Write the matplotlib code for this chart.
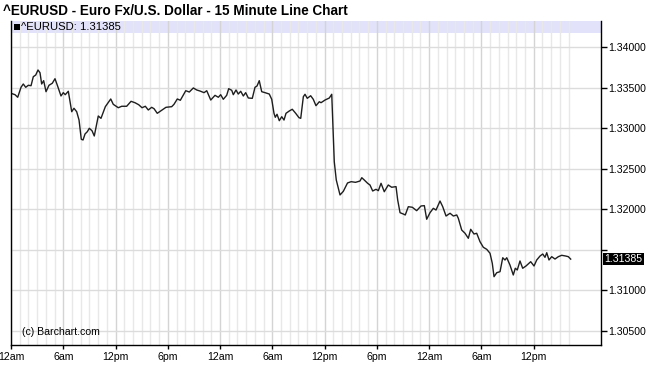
import numpy as np
import matplotlib
matplotlib.use('Agg')
import matplotlib.pyplot as plt
from matplotlib.patches import Rectangle

plt.rcParams['font.family'] = ['Liberation Sans', 'DejaVu Sans']

# hours since the first 12am, and EUR/USD price
hours = [0.00, 0.46, 0.77, 1.15, 1.41, 1.69, 1.99, 2.30, 2.56, 2.84, 3.10, 3.33, 3.52, 3.75,
         4.02, 4.36, 4.74, 5.05, 5.32, 5.74, 6.00, 6.23, 6.58, 6.97, 7.23, 7.54, 7.81, 8.07,
         8.27, 8.50, 8.76, 8.99, 9.30, 9.56, 10.02, 10.33, 10.83, 11.45, 11.74, 12.32, 12.71,
         13.28, 13.78, 14.23, 14.66, 15.04, 15.42, 15.76, 16.15, 16.42, 16.79, 17.22, 17.79,
         18.45, 18.71, 19.09, 19.44, 20.06, 20.47, 20.93, 21.32, 21.70, 22.16, 22.47, 22.93,
         23.42, 23.80, 24.07, 24.37, 24.76, 24.99, 25.34, 25.52, 25.83, 26.09, 26.37, 26.67,
         26.94, 27.24, 27.70, 28.01, 28.24, 28.50, 28.78, 29.16, 29.65, 29.93, 30.19, 30.34,
         30.54, 30.80, 31.08, 31.34, 31.57, 31.95, 32.29, 32.68, 33.06, 33.26, 33.56, 33.75,
         34.01, 34.40, 34.70, 35.01, 35.39, 35.59, 36.05, 36.54, 36.82, 37.11, 37.34, 37.77,
         38.15, 38.63, 39.05, 39.55, 40.06, 40.27, 40.55, 40.94, 41.21, 41.52, 41.90, 42.17,
         42.48, 42.85, 43.31, 43.70, 44.20, 44.39, 44.66, 45.03, 45.26, 45.61, 46.07, 46.57,
         47.07, 47.45, 47.72, 48.10, 48.48, 48.79, 49.25, 49.56, 49.94, 50.40, 50.78, 51.17,
         51.35, 51.74, 52.12, 52.50, 52.77, 53.15, 53.46, 53.84, 54.22, 54.61, 54.99, 55.25,
         55.45, 55.76, 56.14, 56.45, 56.71, 56.91, 57.28, 57.66, 57.89, 58.12, 58.43, 58.74,
         59.12, 59.66, 60.04, 60.35, 60.73, 61.04, 61.30, 61.50, 61.76, 62.07, 62.45, 62.83,
         63.22, 63.68, 63.98, 64.25]
price = [1.33432, 1.33415, 1.33383, 1.33506, 1.33547, 1.33506, 1.33531, 1.33526, 1.33637,
         1.33658, 1.33720, 1.33686, 1.33547, 1.33588, 1.33452, 1.33531, 1.33556, 1.33612,
         1.33531, 1.33399, 1.33440, 1.33415, 1.33457, 1.33205, 1.33247, 1.33205, 1.33102,
         1.32864, 1.32856, 1.32930, 1.32958, 1.33000, 1.32970, 1.32905, 1.33152, 1.33123,
         1.33267, 1.33362, 1.33296, 1.33254, 1.33272, 1.33272, 1.33333, 1.33316, 1.33291,
         1.33254, 1.33272, 1.33226, 1.33259, 1.33242, 1.33185, 1.33217, 1.33259, 1.33267,
         1.33296, 1.33362, 1.33346, 1.33464, 1.33448, 1.33498, 1.33473, 1.33460, 1.33440,
         1.33464, 1.33349, 1.33407, 1.33383, 1.33415, 1.33358, 1.33407, 1.33489, 1.33469,
         1.33415, 1.33473, 1.33423, 1.33457, 1.33399, 1.33440, 1.33374, 1.33370, 1.33506,
         1.33522, 1.33588, 1.33452, 1.33440, 1.33423, 1.33358, 1.33185, 1.33136, 1.33173,
         1.33094, 1.33143, 1.33102, 1.33185, 1.33214, 1.33235, 1.33185, 1.33131, 1.33123,
         1.33390, 1.33420, 1.33370, 1.33402, 1.33358, 1.33279, 1.33328, 1.33316, 1.33349,
         1.33374, 1.33420, 1.32588, 1.32362, 1.32177, 1.32222, 1.32325, 1.32341, 1.32333,
         1.32349, 1.32390, 1.32362, 1.32321, 1.32300, 1.32226, 1.32247, 1.32230, 1.32321,
         1.32217, 1.32300, 1.32272, 1.32280, 1.32115, 1.31958, 1.31942, 1.31930, 1.32032,
         1.32025, 1.31983, 1.32041, 1.32045, 1.31877, 1.31958, 1.32012, 1.31991, 1.32102,
         1.32032, 1.31917, 1.31951, 1.31917, 1.31930, 1.31889, 1.31744, 1.31704, 1.31642,
         1.31753, 1.31695, 1.31704, 1.31600, 1.31531, 1.31506, 1.31457, 1.31333, 1.31168,
         1.31217, 1.31230, 1.31402, 1.31374, 1.31402, 1.31312, 1.31189, 1.31272, 1.31251,
         1.31362, 1.31272, 1.31300, 1.31353, 1.31300, 1.31374, 1.31423, 1.31448, 1.31407,
         1.31464, 1.31374, 1.31415, 1.31386, 1.31415, 1.31432, 1.31423, 1.31415, 1.31385]

last_price = 1.31385
y_ticks = [1.305, 1.310, 1.315, 1.320, 1.325, 1.330, 1.335, 1.340]
x_ticks = [0, 6, 12, 18, 24, 30, 36, 42, 48, 54, 60]
x_labels = ['12am', '6am', '12pm', '6pm', '12am', '6am', '12pm', '6pm', '12am', '6am', '12pm']

fig = plt.figure(figsize=(6.5, 3.86), dpi=100)
ax = fig.add_axes([0.01692, 0.10622, 0.9077, 0.83938])

ax.set_xlim(0, 67.73)
ax.set_ylim(1.303246, 1.343247)

# grid: hourly verticals, darker every 6 hours
for h in range(0, 65):
    c = '#d4d4d4' if h % 6 == 0 else '#e8e8e8'
    ax.axvline(h, color=c, lw=1, zorder=0.5)
for yv in y_ticks:
    ax.axhline(yv, color='#dcdcdc', lw=1, zorder=0.5)

# legend band
ax.add_patch(Rectangle((0, 0.963), 1, 0.037, transform=ax.transAxes,
                       facecolor='#e2e2fa', edgecolor='none', zorder=0.3))
ax.add_patch(Rectangle((0.0056, 0.9720), 0.0095, 0.0195, transform=ax.transAxes,
                       facecolor='black', edgecolor='none', zorder=3))
ax.text(0.0165, 0.9815, '^EURUSD: 1.31385', transform=ax.transAxes, fontsize=8.1,
        va='center', ha='left')

ax.plot(hours, price, color='#1e1e1e', lw=1.0, zorder=2)

ax.yaxis.tick_right()
ax.set_yticks(y_ticks)
ax.set_yticklabels(['' if abs(v - 1.315) < 1e-9 else '%.5f' % v for v in y_ticks])
ax.set_xticks(x_ticks)
ax.set_xticklabels(x_labels)
ax.tick_params(axis='y', direction='out', length=4, width=1, pad=1, labelsize=7.6)
ax.tick_params(axis='x', direction='out', length=3, width=1, pad=2, labelsize=7.6)

for s in ['left', 'bottom', 'right']:
    ax.spines[s].set_linewidth(1)
    ax.spines[s].set_color('black')
ax.spines['top'].set_visible(False)

# last price marker on the right axis
ax.text(1.006, last_price, '1.31385', transform=ax.get_yaxis_transform(), fontsize=7.6,
        color='white', va='center', ha='left',
        bbox=dict(boxstyle='square,pad=0.12', facecolor='black', edgecolor='none'))

ax.text(0.0186, 0.039, '(c) Barchart.com', transform=ax.transAxes, fontsize=7.6,
        va='center', ha='left')

fig.text(3 / 650, 1 - 11 / 386, '^EURUSD - Euro Fx/U.S. Dollar - 15 Minute Line Chart',
         fontsize=9.75, fontweight='bold', va='center', ha='left')

fig.savefig('out.png', dpi=100)
